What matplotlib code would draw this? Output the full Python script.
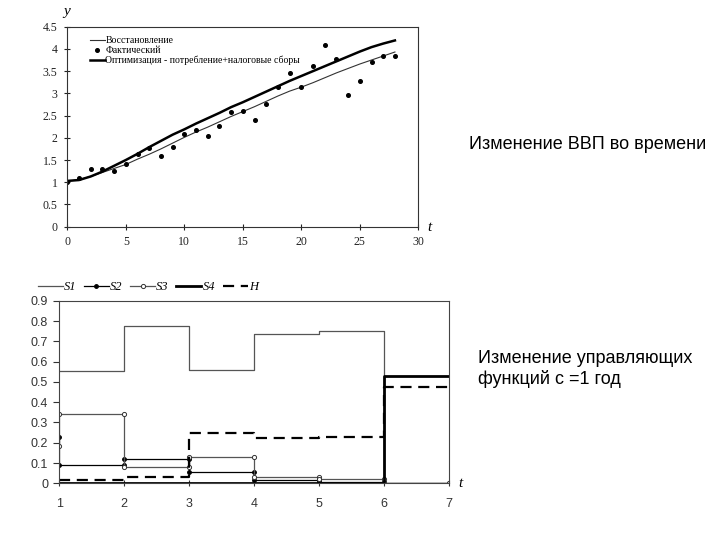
import numpy as np
import matplotlib
matplotlib.use('Agg')
import matplotlib.pyplot as plt

# ---------------- data: GDP over time (top) ----------------
t_years = np.arange(0, 29)
y_actual = [1.01, 1.10, 1.29, 1.29, 1.25, 1.41, 1.64, 1.76, 1.58, 1.80,
            2.08, 2.18, 2.05, 2.26, 2.59, 2.61, 2.39, 2.75, 3.14, 3.46,
            3.14, 3.62, 4.09, 3.77, 2.96, 3.28, 3.71, 3.83, 3.83]
y_restored = [1.02, 1.06, 1.13, 1.22, 1.31, 1.40, 1.52, 1.63, 1.75, 1.88,
              2.01, 2.13, 2.24, 2.36, 2.48, 2.59, 2.70, 2.82, 2.94, 3.05,
              3.14, 3.24, 3.35, 3.46, 3.56, 3.66, 3.75, 3.84, 3.93]
y_optim = [1.03, 1.05, 1.13, 1.24, 1.37, 1.50, 1.64, 1.79, 1.93, 2.07,
           2.19, 2.32, 2.44, 2.56, 2.69, 2.80, 2.92, 3.04, 3.16, 3.28,
           3.39, 3.50, 3.61, 3.72, 3.83, 3.94, 4.04, 4.12, 4.19]
top_labels = ['Восстановление', 'Фактический',
              'Оптимизация - потребление+налоговые сборы']

# ---------------- data: control functions (bottom) ----------------
steps_t = [1, 2, 3, 4, 5, 6]          # start of each one-year interval
s1_vals = [0.555, 0.775, 0.56, 0.735, 0.75, 0.0]
s2_start = 0.23
s2_vals = [0.09, 0.12, 0.055, 0.015, 0.008, 0.0]
s3_start = 0.185
s3_vals = [0.34, 0.08, 0.13, 0.03, 0.02, 0.0]
s4_vals = [0.003, 0.003, 0.003, 0.003, 0.003, 0.53]
h_vals = [0.018, 0.03, 0.25, 0.225, 0.23, 0.475]
bottom_labels = ['S1', 'S2', 'S3', 'S4', 'H']

text_top = 'Изменение ВВП во времени'
text_bottom = 'Изменение управляющих\nфункций с =1 год'


def step_path(vals, start=None):
    xs, ys = [], []
    if start is not None:
        xs.append(steps_t[0])
        ys.append(start)
    for k, v in zip(steps_t, vals):
        xs += [k, k + 1]
        ys += [v, v]
    return xs, ys


fig = plt.figure(figsize=(7.2, 5.4), dpi=100)
serif = 'Liberation Serif'
sans = 'Liberation Sans'

# ---------------- top panel ----------------
ax1 = fig.add_axes([0.0935, 0.5802, 0.4875, 0.3704])
ax1.plot(t_years, y_restored, color='#333333', lw=0.8, label=top_labels[0])
ax1.plot(t_years, y_actual, 'o', color='black', ms=2.6, label=top_labels[1])
ax1.plot(t_years, y_optim, color='black', lw=1.8, label=top_labels[2])
ax1.set_xlim(0, 30)
ax1.set_ylim(0, 4.5)
ax1.set_xticks(np.arange(0, 31, 5))
ax1.set_yticks(np.arange(0, 4.51, 0.5))
ax1.set_yticklabels(['0', '0.5', '1', '1.5', '2', '2.5', '3', '3.5', '4', '4.5'])
ax1.tick_params(direction='inout', length=4, width=0.8, labelsize=8.5,
                colors='#222222', pad=5)
for lab in ax1.get_xticklabels() + ax1.get_yticklabels():
    lab.set_family(serif)
for sp in ax1.spines.values():
    sp.set_color('#333333')
    sp.set_linewidth(0.8)
leg1 = ax1.legend(loc='upper left', bbox_to_anchor=(0.045, 0.985), frameon=False,
                  prop={'family': serif, 'size': 7}, handlelength=1.5,
                  handletextpad=0.1, labelspacing=0.05, borderpad=0.2,
                  markerscale=1.0)
fig.text(0.093, 0.978, 'y', family=serif, style='italic', fontsize=11,
         ha='center', va='center')
fig.text(0.596, 0.578, 't', family=serif, style='italic', fontsize=11,
         ha='center', va='center')

# ---------------- bottom panel ----------------
ax2 = fig.add_axes([0.0824, 0.105, 0.5412, 0.338])
x, y = step_path(s1_vals)
ax2.plot(x, y, color='#555555', lw=0.9, label=bottom_labels[0])
x, y = step_path(s2_vals, s2_start)
ax2.plot(x, y, color='black', lw=0.9, marker='o', ms=2.5, label=bottom_labels[1])
x, y = step_path(s3_vals, s3_start)
ax2.plot(x, y, color='#555555', lw=0.9, marker='o', ms=3, mfc='white',
         mec='#333333', mew=0.7, label=bottom_labels[2])
x, y = step_path(s4_vals)
ax2.plot(x, y, color='black', lw=2.0, label=bottom_labels[3])
x, y = step_path(h_vals)
ax2.plot(x, y, color='black', lw=1.6, ls=(0, (5, 3)), label=bottom_labels[4])
ax2.set_xlim(1, 7)
ax2.set_ylim(0, 0.9)
ax2.set_xticks(range(1, 8))
ax2.set_yticks(np.arange(0, 0.91, 0.1))
ax2.set_yticklabels(['0', '0.1', '0.2', '0.3', '0.4', '0.5', '0.6', '0.7',
                     '0.8', '0.9'])
ax2.tick_params(axis='y', direction='out', length=4, width=0.8, labelsize=9,
                colors='#333333', pad=4)
ax2.tick_params(axis='x', direction='inout', length=5, width=0.8,
                labelsize=9, colors='#333333', pad=8)
for lab in ax2.get_xticklabels() + ax2.get_yticklabels():
    lab.set_family(sans)
for sp in ax2.spines.values():
    sp.set_color('#444444')
    sp.set_linewidth(0.8)
ax2.legend(loc='lower left', bbox_to_anchor=(-0.075, 1.0), ncol=5,
           frameon=False, prop={'family': serif, 'style': 'italic', 'size': 9},
           handlelength=2.0, handletextpad=0.1, columnspacing=0.6,
           borderpad=0.1)
fig.text(0.639, 0.105, 't', family=serif, style='italic', fontsize=11,
         ha='center', va='center')

# ---------------- captions ----------------
fig.text(0.652, 0.732, text_top, family=sans, fontsize=13, va='center')
fig.text(0.664, 0.317, text_bottom, family=sans, fontsize=13, va='center',
         linespacing=1.2)

fig.savefig('out.png', dpi=100)
